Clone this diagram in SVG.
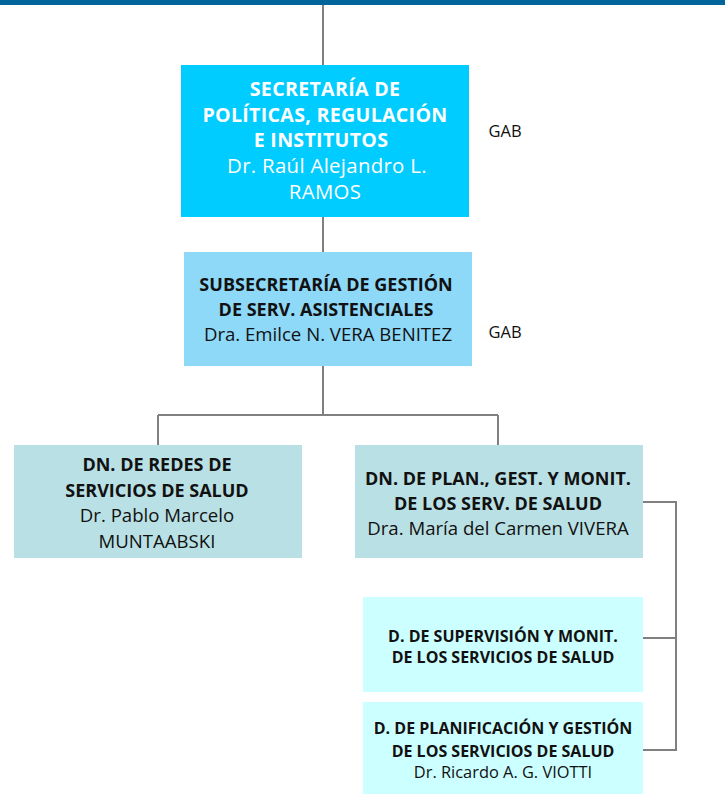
<svg xmlns="http://www.w3.org/2000/svg" width="725" height="794" viewBox="0 0 725 794">
<style>
text{font-family:"Open Sans","Liberation Sans",sans-serif;text-anchor:middle}
.b{font-weight:bold}
.w{fill:#ffffff}
.k{fill:#111111}
.t{font-size:19.6px;letter-spacing:0.3px}
.l{stroke:#808080;stroke-width:2;fill:none}
</style>
<rect x="0" y="0" width="725" height="794" fill="#ffffff"/>
<rect x="0" y="0" width="725" height="5" fill="#00659A"/>
<g id="connectors">
<path class="l" d="M323 5V65M323 217V252M323 366V415M158 415H498M158 415V445M498 415V445"/>
<path class="l" d="M643 502H676V750H643M643 638H676"/>
</g>
<g id="n1">
<rect x="181" y="65" width="288" height="152" fill="#00CCFF"/>
<text class="b w t" x="325" y="96">SECRETARÍA DE</text>
<text class="b w t" x="325" y="122">POLÍTICAS, REGULACIÓN</text>
<text class="b w t" x="321" y="147">E INSTITUTOS</text>
<text class="w t" x="327" y="173" style="font-size:20.4px">Dr. Raúl Alejandro L.</text>
<text class="w t" x="325" y="199" style="font-size:20.4px">RAMOS</text>
</g>
<text class="k" x="505" y="137" font-size="16.5">GAB</text>
<g id="n2">
<rect x="184" y="252" width="288" height="114" fill="#8ED8F8"/>
<text class="b k" x="326" y="291" font-size="18">SUBSECRETARÍA DE GESTIÓN</text>
<text class="b k" x="326" y="316" font-size="18">DE SERV. ASISTENCIALES</text>
<text class="k" x="328" y="341" font-size="18.6">Dra. Emilce N. VERA BENITEZ</text>
</g>
<text class="k" x="505" y="338" font-size="16.5">GAB</text>
<g id="n3">
<rect x="14" y="445" width="288" height="113" fill="#B9E0E4"/>
<text class="b k" x="157" y="471" font-size="18">DN. DE REDES DE</text>
<text class="b k" x="157" y="497" font-size="18">SERVICIOS DE SALUD</text>
<text class="k" x="157" y="522" font-size="18.6">Dr. Pablo Marcelo</text>
<text class="k" x="157" y="548" font-size="18.6">MUNTAABSKI</text>
</g>
<g id="n4">
<rect x="355" y="445" width="288" height="113" fill="#B9E0E4"/>
<text class="b k" x="498" y="485" font-size="18">DN. DE PLAN., GEST. Y MONIT.</text>
<text class="b k" x="498" y="510" font-size="18">DE LOS SERV. DE SALUD</text>
<text class="k" x="498" y="535" font-size="18.6">Dra. María del Carmen VIVERA</text>
</g>
<g id="n5">
<rect x="363" y="597" width="280" height="95" fill="#CCFFFF"/>
<text class="b k" x="503" y="642" font-size="16">D. DE SUPERVISIÓN Y MONIT.</text>
<text class="b k" x="503" y="663" font-size="16">DE LOS SERVICIOS DE SALUD</text>
</g>
<g id="n6">
<rect x="363" y="702" width="280" height="92" fill="#CCFFFF"/>
<text class="b k" x="503" y="734" font-size="16">D. DE PLANIFICACIÓN Y GESTIÓN</text>
<text class="b k" x="503" y="757" font-size="16">DE LOS SERVICIOS DE SALUD</text>
<text class="k" x="503" y="778" font-size="16.4">Dr. Ricardo A. G. VIOTTI</text>
</g>
</svg>
